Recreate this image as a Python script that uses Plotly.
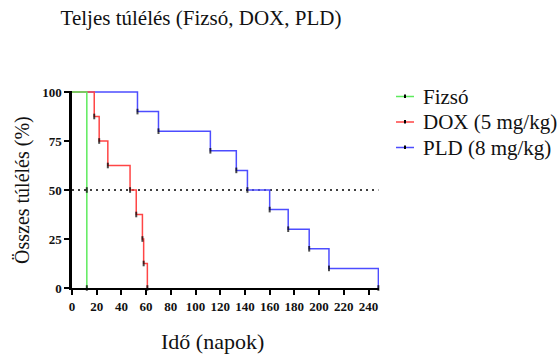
import plotly.graph_objects as go

# Kaplan-Meier data (days, survival %)
fizso_days = [0, 12, 12]
fizso_surv = [100, 50, 0]

dox_days = [0, 18, 22, 29, 47, 52, 57, 58, 61]
dox_surv = [100, 87.5, 75, 62.5, 50, 37.5, 25, 12.5, 0]

pld_days = [0, 53, 70, 112, 133, 142, 160, 175, 192, 208, 248]
pld_surv = [100, 90, 80, 70, 60, 50, 40, 30, 20, 10, 0]

x_ticks = list(range(0, 241, 20))
y_ticks = [0, 25, 50, 75, 100]

SERIF = "Liberation Serif"

# pixel geometry of plot area (for paper-coordinate placement)
L, R, T, B, W, H = 72, 181, 91, 66, 560, 354
PW, PH = W - L - R, H - T - B


def px(xp):
    return (xp - L) / PW


def py(yp):
    return (H - B - yp) / PH


series = [
    ("PLD (8 mg/kg)", pld_days, pld_surv, "#4D4DFF"),
    ("DOX (5 mg/kg)", dox_days, dox_surv, "#FF4545"),
    ("Fizsó", fizso_days, fizso_surv, "#5EEB5E"),
]

fig = go.Figure()
for name, d, s, col in series:
    fig.add_trace(go.Scatter(
        x=d, y=s, name=name, mode="lines+markers", line_shape="hv",
        line=dict(color=col, width=1.5),
        marker=dict(symbol="line-ns", size=[0] + [4] * (len(d) - 1),
                    color="black", line=dict(color="black", width=2)),
        cliponaxis=False, showlegend=False,
    ))

fig.add_shape(type="line", xref="x", yref="y", x0=0, x1=248, y0=50, y1=50,
              line=dict(color="black", width=1.5, dash="2px,4px"), layer="below")

# manual legend (order: Fizsó, DOX, PLD)
annotations = []
legend_rows = [96.5, 122, 147.5]
for (name, d, s, col), yrow in zip(series[::-1], legend_rows):
    fig.add_shape(type="line", xref="paper", yref="paper",
                  x0=px(396), x1=px(414), y0=py(yrow), y1=py(yrow),
                  line=dict(color=col, width=1.5))
    fig.add_shape(type="line", xref="paper", yref="paper",
                  x0=px(405), x1=px(405), y0=py(yrow - 2), y1=py(yrow + 1.5),
                  line=dict(color="black", width=2))
    annotations.append(dict(text=name, xref="paper", yref="paper",
                            x=px(421), y=py(yrow), xanchor="left", yanchor="middle",
                            showarrow=False, font=dict(family=SERIF, size=21, color="#111")))

annotations += [
    dict(text="Idő (napok)", xref="paper", yref="paper",
         x=px(212), y=py(341), xanchor="center", yanchor="middle",
         showarrow=False, font=dict(family=SERIF, size=22, color="#111")),
    dict(text="Összes túlélés (%)", xref="paper", yref="paper",
         x=px(22), y=py(190), xanchor="center", yanchor="middle",
         textangle=-90, showarrow=False, font=dict(family=SERIF, size=20, color="#111")),
]

fig.update_layout(
    width=W, height=H,
    margin=dict(l=L, r=R, t=T, b=B, autoexpand=False),
    paper_bgcolor="white", plot_bgcolor="white",
    showlegend=False,
    title=dict(text="Teljes túlélés (Fizsó, DOX, PLD)", xref="container",
               x=201 / W, xanchor="center", y=1 - 18 / H, yanchor="middle",
               font=dict(family=SERIF, size=21, color="#111")),
    xaxis=dict(range=[0, 248.5], tickvals=x_ticks, ticktext=[str(v) for v in x_ticks],
               showgrid=False, zeroline=False, showline=True, linecolor="black",
               linewidth=2, ticks="outside", ticklen=5, tickwidth=2, tickcolor="black",
               tickfont=dict(family=SERIF, size=13, color="#111", weight="bold")),
    yaxis=dict(range=[0, 100.5], tickvals=y_ticks, ticktext=[str(v) for v in y_ticks],
               showgrid=False, zeroline=False, showline=True, linecolor="black",
               linewidth=2.5, ticks="outside", ticklen=5, tickwidth=2, tickcolor="black",
               tickfont=dict(family=SERIF, size=13, color="#111", weight="bold")),
    annotations=annotations,
)

fig.write_html("out.html")
